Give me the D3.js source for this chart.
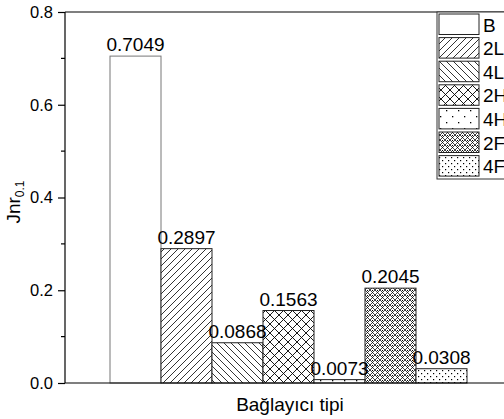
<!DOCTYPE html>
<html><head><meta charset="utf-8">
<script src="https://cdn.jsdelivr.net/npm/d3@7"></script>
<style>body{margin:0;background:#fff}svg{display:block;font-family:Arial,"Liberation Sans",sans-serif}</style>
</head><body>
<script>
const categories = ["B","2L","4L","2H","4H","2F","4F"];
const values = [0.7049,0.2897,0.0868,0.1563,0.0073,0.2045,0.0308];
const labels = ["0.7049","0.2897","0.0868","0.1563","0.0073","0.2045","0.0308"];
const yTicks = [0,0.2,0.4,0.6,0.8];
const yMinor = [0.1,0.3,0.5,0.7];
const patternIds = ["pB","p2L","p4L","p2H","p4H","p2F","p4F"];

const W=504,H=419;
const svg=d3.select("body").append("svg").attr("width",W).attr("height",H);
const defs=svg.append("defs");
function pat(id,w,h,draw){const p=defs.append("pattern").attr("id",id).attr("patternUnits","userSpaceOnUse").attr("width",w).attr("height",h);p.append("rect").attr("width",w).attr("height",h).attr("fill","#fff");draw(p);}
pat("pB",4,4,p=>{});
pat("p2L",7,7,p=>{p.append("path").attr("d","M0,7L7,0M-1,1L1,-1M6,8L8,6").attr("stroke","#000").attr("stroke-width",0.8);});
pat("p4L",7,7,p=>{p.append("path").attr("d","M0,0L7,7M-1,6L1,8M6,-1L8,1").attr("stroke","#000").attr("stroke-width",0.8);});
pat("p2H",9,9,p=>{p.append("path").attr("d","M0,0L9,9M9,0L0,9").attr("stroke","#000").attr("stroke-width",0.9);});
pat("p4H",12,12,p=>{p.append("rect").attr("x",2).attr("y",2).attr("width",1.3).attr("height",1.3).attr("fill","#000");p.append("rect").attr("x",8).attr("y",8).attr("width",1.3).attr("height",1.3).attr("fill","#000");});
pat("p2F",5,5,p=>{p.append("path").attr("d","M0,0L5,5M5,0L0,5").attr("stroke","#000").attr("stroke-width",0.75);p.append("rect").attr("x",2).attr("y",0).attr("width",1).attr("height",1).attr("fill","#000");});
pat("p4F",6,6,p=>{p.append("rect").attr("x",1).attr("y",1).attr("width",1.2).attr("height",1.2).attr("fill","#000");p.append("rect").attr("x",4).attr("y",4).attr("width",1.2).attr("height",1.2).attr("fill","#000");});

const pL=65,pR=512,pT=12,pB=383;
const y=d3.scaleLinear().domain([0,0.8]).range([pB,pT]);
const x=d3.scaleBand().domain(categories).range([110,467]).padding(0);

// bars
svg.append("g").selectAll("rect").data(categories).join("rect")
 .attr("x",d=>x(d)).attr("width",x.bandwidth())
 .attr("y",(d,i)=>y(values[i])).attr("height",(d,i)=>y(0)-y(values[i]))
 .attr("fill",(d,i)=>`url(#${patternIds[i]})`)
 .attr("stroke",(d,i)=>i===0?"#777":"#222").attr("stroke-width",1);

// value labels
svg.append("g").selectAll("text").data(categories).join("text")
 .attr("x",d=>x(d)+x.bandwidth()/2).attr("y",(d,i)=>y(values[i])-5)
 .attr("text-anchor","middle").attr("font-size",19).attr("fill","#000")
 .text((d,i)=>labels[i]);

// axes frame
svg.append("line").attr("x1",pL).attr("x2",pR).attr("y1",pT).attr("y2",pT).attr("stroke","#000").attr("stroke-width",1.2);
svg.append("line").attr("x1",pL).attr("x2",pR).attr("y1",pB).attr("y2",pB).attr("stroke","#000").attr("stroke-width",1.2);
const yAxis=d3.axisLeft(y).tickValues(yTicks).tickFormat(d3.format(".1f")).tickSize(7).tickPadding(5);
const ga=svg.append("g").attr("transform",`translate(${pL},0)`).call(yAxis);
ga.selectAll("text").attr("font-size",16.5).attr("font-family","Arial,'Liberation Sans',sans-serif").attr("fill","#000");
ga.selectAll("line,path").attr("stroke","#000").attr("stroke-width",1.2);
ga.select(".domain").attr("d",`M0,${pT}V${pB}`);
svg.append("g").selectAll("line").data(yMinor).join("line")
 .attr("x1",pL-4).attr("x2",pL).attr("y1",d=>y(d)).attr("y2",d=>y(d)).attr("stroke","#000").attr("stroke-width",1.2);

// axis titles
svg.append("text").attr("x",290).attr("y",411).attr("text-anchor","middle").attr("font-size",19).text("Bağlayıcı tipi");
const yl=svg.append("text").attr("transform","translate(20,202) rotate(-90)").attr("text-anchor","middle").attr("font-size",19);
yl.append("tspan").text("Jnr");
yl.append("tspan").attr("font-size",12).attr("dy",4).text("0.1");

// legend
const lg=svg.append("g");
lg.append("rect").attr("x",437).attr("y",12).attr("width",80).attr("height",167).attr("fill","#fff").attr("stroke","#333").attr("stroke-width",1);
const rowH=23.6;
categories.forEach((c,i)=>{
 lg.append("rect").attr("x",439).attr("y",14+i*rowH).attr("width",40).attr("height",20.5)
  .attr("fill",`url(#${patternIds[i]})`).attr("stroke","#222").attr("stroke-width",1);
 lg.append("text").attr("x",483).attr("y",31.5+i*rowH).attr("font-size",19).text(c);
});
</script>
</body></html>
